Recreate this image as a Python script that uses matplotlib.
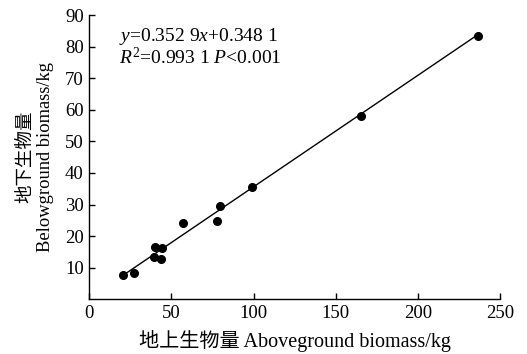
import numpy as np
import matplotlib
matplotlib.use("Agg")
import matplotlib.pyplot as plt

# aboveground / belowground biomass (kg)
above = [20.7, 27.2, 40.0, 39.6, 44.4, 43.5, 57.2, 77.9, 79.5, 99.2, 165.4, 236.8]
below = [7.6, 8.3, 16.7, 13.4, 16.1, 12.7, 24.1, 24.9, 29.7, 35.5, 57.9, 83.5]
slope, intercept = 0.3529, 0.3481

xticks = [0, 50, 100, 150, 200, 250]
yticks = [10, 20, 30, 40, 50, 60, 70, 80, 90]

fam = ['Liberation Serif', 'Noto Sans CJK SC']
plt.rcParams['font.family'] = fam
plt.rcParams['mathtext.fontset'] = 'custom'
plt.rcParams['mathtext.rm'] = 'Liberation Serif'
plt.rcParams['mathtext.it'] = 'Liberation Serif:italic'

fig = plt.figure(figsize=(5.27, 3.54), dpi=100)
ax = fig.add_axes([0.1695, 0.1545, 0.7795, 0.803])

x = np.array(above)
ax.plot(x, below, 'o', color='black', markersize=5.5)
xl = np.array([x.min(), x.max()])
ax.plot(xl, slope * xl + intercept, color='black', linewidth=1.0)

ax.set_xlim(0, 250)
ax.set_ylim(0, 90)
ax.set_xticks(xticks)
ax.set_yticks(yticks)
ax.tick_params(direction='in', length=4, width=1, labelsize=13.5, pad=4)
for s in ['top', 'right']:
    ax.spines[s].set_visible(False)
for s in ['left', 'bottom']:
    ax.spines[s].set_linewidth(1.0)

ax.text(0.072, 0.926, r"$y$=0.352 9$x$+0.348 1", transform=ax.transAxes,
        fontsize=14, va='center')
ax.text(0.072, 0.849, r"$R^2$=0.993 1 $P$<0.001", transform=ax.transAxes,
        fontsize=14, va='center')

ax.set_xlabel("地上生物量 Aboveground biomass/kg", fontsize=14.5, labelpad=6,
              fontweight='light')
ax.set_ylabel("地下生物量\nBelowground biomass/kg", fontsize=13.3, labelpad=8,
              linespacing=1.15, fontweight='light')

fig.savefig("out.png", dpi=100)
